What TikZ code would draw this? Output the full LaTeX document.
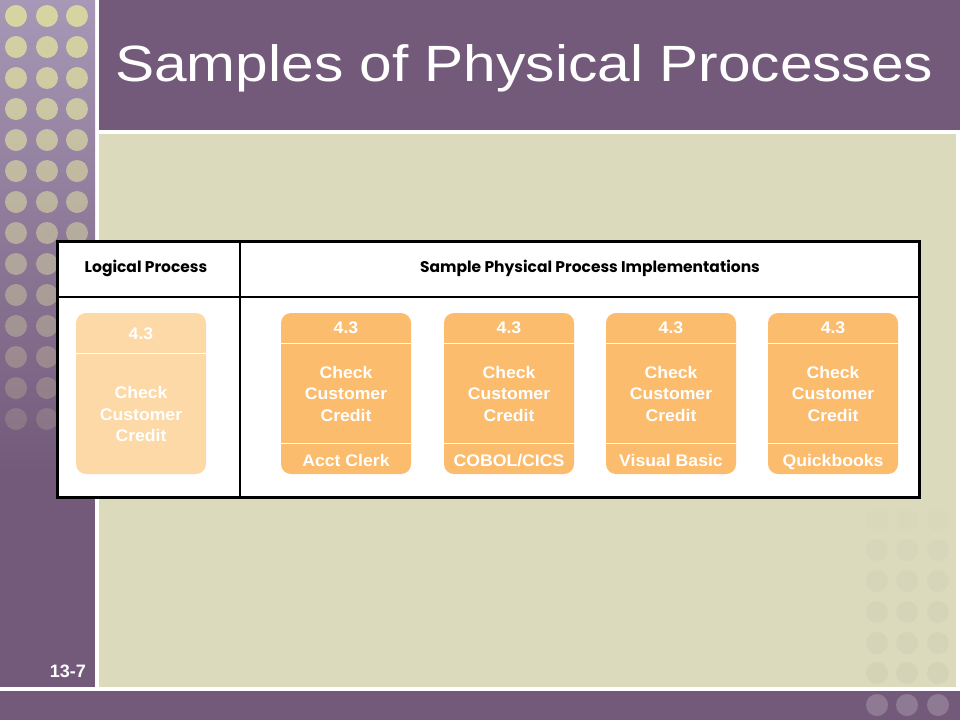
\documentclass[tikz,border=0pt]{standalone}
\usepackage{fontspec}
\setmainfont{Liberation Sans}
\newfontfamily\titlefont{Liberation Sans}[FakeStretch=1.15]
\newfontfamily\boxfont{Liberation Sans}[FakeStretch=1.05]
\newfontfamily\headfont{Poppins}
\usetikzlibrary{positioning}
\definecolor{slidepurple}{RGB}{115, 90, 122}
\definecolor{striplilac}{RGB}{168, 151, 182}
\definecolor{dotyellow}{RGB}{214, 213, 162}
\definecolor{slidebeige}{RGB}{219, 218, 189}
\definecolor{beigedot}{RGB}{203, 202, 176}
\definecolor{stripdot}{RGB}{142, 122, 147}
\definecolor{procorange}{RGB}{251, 188, 110}
\definecolor{procpale}{RGB}{252, 217, 166}

\begin{document}
\begin{tikzpicture}[
  x=1pt, y=-1pt,
  proc/.style={rectangle, rounded corners=10pt, minimum width=130pt, minimum height=161pt, inner sep=0pt, fill=procorange},
  proctext/.style={text=white, font=\boxfont\fontsize{16.8}{21.5}\selectfont\bfseries, align=center, inner sep=0pt},
  tooltext/.style={proctext, text height=12pt, text depth=3.5pt},
  divline/.style={white, line width=1.2pt},
  headtext/.style={font=\headfont\fontsize{15.5}{18}\selectfont\bfseries, inner sep=0pt},
  gridline/.style={black, line width=2.6pt}
]
  \useasboundingbox (0,0) rectangle (960,720);

  % slide background
  \fill[white] (0,0) rectangle (960,720);
  \shade[top color=striplilac, bottom color=slidepurple] (0,0) rectangle (95,470);
  \fill[slidepurple] (0,469) rectangle (95,687);
  \fill[slidepurple] (99,0) rectangle (960,130);
  \fill[slidebeige] (99,134) rectangle (956,687);
  \fill[slidepurple] (0,691) rectangle (960,720);

  % dot pattern
  \foreach \r in {0,...,13} {
    \foreach \c in {16,47,77} {
      \fill[dotyellow, opacity={1-0.062*\r}] (\c,16+31*\r) circle (11);
    }
  }
  \foreach \r/\o in {520/0.12,550/0.2,581/0.28,612/0.32,643/0.36,673/0.4} {
    \foreach \c in {877,907,938} {
      \fill[beigedot, opacity=\o] (\c,\r) circle (11);
    }
  }
  \foreach \c in {877,907,938} {
    \fill[stripdot] (\c,705) circle (11);
  }

  % title and slide number
  \node[anchor=base west, inner sep=0pt, text=white, font=\titlefont\fontsize{51}{60}\selectfont] (title) at (115,81) {Samples of Physical Processes};
  \node[anchor=base east, inner sep=0pt, text=white, font=\fontsize{18}{20}\selectfont\bfseries] (slideno) at (86,677) {13-7};

  % table frame
  \fill[white] (57,241) rectangle (919,497);
  \draw[gridline] (57,297) -- (919,297);
  \draw[gridline] (240,241) -- (240,497);
  \draw[black, line width=3pt] (57,241) rectangle (919,497);
  \node[headtext] (loghead) at (146,268) {Logical Process};
  \node[headtext] (phyhead) at (590,268) {Sample Physical Process Implementations};

  % logical process
  \node[proc, fill=procpale] (lp) at (141,393.5) {};
  \draw[divline] ([yshift=-41pt]lp.north west) -- ([yshift=-41pt]lp.north east);
  \node[proctext] (lpid) at ([yshift=-21pt]lp.north) {4.3};
  \node[proctext] (lpname) at ([yshift=-20.5pt]lp.center) {Check\\Customer\\Credit};

  % physical processes
  \node[proc] (p1) at (346,393.5) {};
  \node[proc] (p2) at (509,393.5) {};
  \node[proc] (p3) at (671,393.5) {};
  \node[proc] (p4) at (833,393.5) {};

  \foreach \p/\tool in {p1/{Acct Clerk}, p2/{COBOL/CICS}, p3/{Visual Basic}, p4/{Quickbooks}} {
    \draw[divline] ([yshift=-31pt]\p.north west) -- ([yshift=-31pt]\p.north east);
    \draw[divline] ([yshift=31pt]\p.south west) -- ([yshift=31pt]\p.south east);
    \node[proctext] (\p id) at ([yshift=-15pt]\p.north) {4.3};
    \node[proctext] (\p name) at (\p.center) {Check\\Customer\\Credit};
    \node[tooltext] (\p tool) at ([yshift=12pt]\p.south) {\tool};
  }
\end{tikzpicture}
\end{document}
